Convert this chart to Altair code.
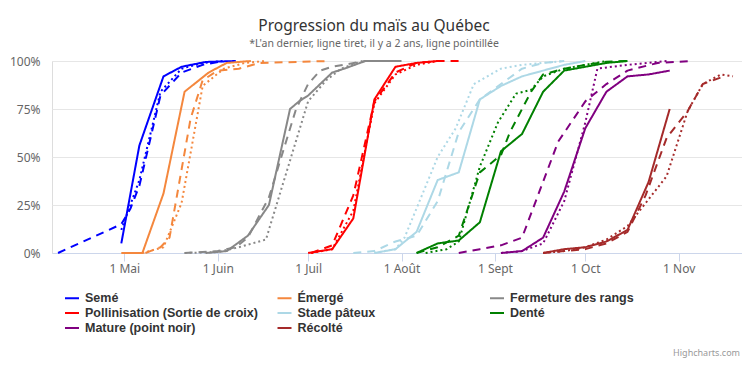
import altair as alt
import pandas as pd

YEAR = 2023
STAGES = ["Semé", "Émergé", "Fermeture des rangs",
          "Pollinisation (Sortie de croix)", "Stade pâteux", "Denté",
          "Mature (point noir)", "Récolté"]
COLORS = ["#0000ff", "#f4873d", "#888888", "#ff0000", "#add8e6",
          "#008000", "#800080", "#a52a2a"]
PERIODS = ["Cette année", "L'an dernier", "Il y a 2 ans"]
MONTHS = ["Janv", "Févr", "Mars", "Avr", "Mai", "Juin", "Juil", "Août",
          "Sept", "Oct", "Nov", "Déc"]
Y_TICKS = [0, 25, 50, 75, 100]

# (MM-DD, % cumulative) -- current year, last year (dashed), 2 years ago (dotted)
SEME_CUR = [("04-30", 5), ("05-06", 56), ("05-14", 92), ("05-20", 97), ("05-28", 99.5), ("06-07", 100)]
SEME_LY = [("04-09", 0), ("04-30", 15), ("05-03", 23), ("05-06", 35), ("05-13", 82), ("05-20", 94), ("05-27", 98), ("06-03", 100)]
SEME_L2 = [("04-30", 12), ("05-03", 25), ("05-06", 38), ("05-13", 84), ("05-20", 96), ("05-27", 99), ("06-03", 100)]

EMERGE_CUR = [("04-30", 0), ("05-07", 0), ("05-14", 31), ("05-21", 84), ("05-29", 94), ("06-04", 99), ("06-12", 100)]
EMERGE_LY = [("05-08", 0), ("05-13", 3), ("05-16", 8), ("05-23", 70), ("05-27", 90), ("06-01", 95), ("06-08", 96), ("06-15", 99), ("07-08", 100)]
EMERGE_L2 = [("05-07", 0), ("05-14", 3), ("05-20", 26), ("05-27", 87), ("06-03", 96), ("06-10", 99), ("06-17", 100)]

FERM_CUR = [("05-28", 0), ("06-04", 1), ("06-11", 9), ("06-18", 25), ("06-25", 75), ("06-28", 79), ("07-01", 82), ("07-09", 94), ("07-13", 96), ("07-20", 100), ("08-01", 100)]
FERM_LY = [("05-21", 0), ("06-01", 1), ("06-07", 3), ("06-11", 8), ("06-18", 29), ("06-27", 75), ("07-01", 88), ("07-05", 95), ("07-09", 97), ("07-20", 100)]
FERM_L2 = [("05-21", 0), ("06-01", 0.5), ("06-08", 3), ("06-17", 7), ("07-01", 79), ("07-07", 90), ("07-12", 96), ("07-19", 100)]

POLL_CUR = [("07-01", 0), ("07-09", 2), ("07-16", 18), ("07-23", 80), ("07-30", 97), ("08-06", 99), ("08-13", 100)]
POLL_LY = [("07-02", 0), ("07-09", 4), ("07-16", 30), ("07-23", 79), ("07-30", 94), ("08-06", 99), ("08-13", 100), ("08-20", 100)]
POLL_L2 = [("07-02", 0), ("07-09", 2), ("07-16", 22), ("07-23", 78), ("07-30", 93), ("08-06", 98), ("08-13", 100)]

PAT_CUR = [("07-23", 0), ("07-30", 2), ("08-06", 11), ("08-13", 38), ("08-20", 42), ("08-27", 80), ("09-03", 87), ("09-10", 92), ("09-17", 95), ("09-24", 98), ("10-01", 100)]
PAT_LY = [("07-16", 0), ("07-23", 1), ("07-30", 6), ("08-06", 9), ("08-13", 27), ("08-20", 63), ("08-27", 80), ("09-03", 88), ("09-10", 96), ("09-17", 99), ("09-24", 100)]
PAT_L2 = [("07-23", 0), ("07-30", 2), ("08-02", 8), ("08-13", 50), ("08-19", 65), ("08-25", 88), ("09-03", 96), ("09-10", 98), ("09-17", 99), ("09-24", 100)]

DENTE_CUR = [("08-06", 0), ("08-13", 5), ("08-20", 6.5), ("08-27", 16), ("09-03", 53), ("09-10", 62), ("09-17", 84), ("09-24", 95), ("10-01", 97), ("10-08", 99), ("10-15", 100)]
DENTE_LY = [("08-06", 0), ("08-13", 3), ("08-20", 9), ("08-27", 42), ("09-03", 51), ("09-06", 63), ("09-13", 84), ("09-17", 93), ("09-24", 96), ("10-01", 98), ("10-08", 99.6), ("10-15", 100)]
DENTE_L2 = [("08-09", 0), ("08-16", 2), ("08-20", 6), ("08-27", 45), ("09-02", 68), ("09-08", 83), ("09-13", 85), ("09-17", 92), ("09-24", 96), ("10-01", 98), ("10-08", 100)]

MAT_CUR = [("09-03", 0), ("09-10", 1), ("09-17", 8), ("09-24", 32), ("10-01", 65), ("10-08", 84), ("10-15", 92), ("10-22", 93), ("10-29", 95)]
MAT_LY = [("08-20", 0), ("08-27", 2), ("09-03", 4), ("09-10", 8), ("09-22", 58), ("10-01", 79), ("10-08", 88), ("10-15", 95), ("10-25", 99), ("11-05", 100)]
MAT_L2 = [("09-03", 0), ("09-10", 1), ("09-17", 5), ("09-24", 27), ("10-01", 68), ("10-05", 96), ("10-15", 98), ("10-28", 100)]

REC_CUR = [("09-17", 0), ("09-24", 2), ("10-01", 3), ("10-08", 6), ("10-15", 12), ("10-22", 37), ("10-29", 75)]
REC_LY = [("09-17", 0), ("09-24", 1), ("10-01", 2), ("10-08", 5), ("10-15", 11), ("10-21", 30), ("10-28", 60), ("11-04", 74), ("11-09", 88), ("11-16", 92)]
REC_L2 = [("09-17", 0), ("09-24", 1), ("10-01", 3), ("10-08", 7), ("10-15", 14), ("10-22", 28), ("10-28", 40), ("11-04", 74), ("11-09", 88), ("11-15", 93), ("11-19", 92)]

GROUPS = [
    (SEME_CUR, SEME_LY, SEME_L2),
    (EMERGE_CUR, EMERGE_LY, EMERGE_L2),
    (FERM_CUR, FERM_LY, FERM_L2),
    (POLL_CUR, POLL_LY, POLL_L2),
    (PAT_CUR, PAT_LY, PAT_L2),
    (DENTE_CUR, DENTE_LY, DENTE_L2),
    (MAT_CUR, MAT_LY, MAT_L2),
    (REC_CUR, REC_LY, REC_L2),
]

rows = []
for stage, group in zip(STAGES, GROUPS):
    for period, pts in zip(PERIODS, group):
        for d, v in pts:
            rows.append({"date": f"{YEAR}-{d}", "value": v, "stage": stage, "period": period})
df = pd.DataFrame(rows)

FONT = "Noto Sans"
LEGEND_FONT = "Liberation Sans"
label_expr = "'1 ' + " + str(MONTHS).replace('"', "'") + "[utcmonth(datum.value)]"
x_values = [alt.DateTime(year=YEAR, month=m, date=1, utc=True) for m in range(5, 12)]

lines = alt.Chart(df).mark_line(strokeCap="butt", strokeJoin="round").encode(
    x=alt.X("date:T",
            scale=alt.Scale(type="utc",
                            domain=[alt.DateTime(year=YEAR, month=4, date=7, utc=True),
                                    alt.DateTime(year=YEAR, month=11, date=22, utc=True)]),
            axis=alt.Axis(values=x_values, labelExpr=label_expr, title=None, grid=False,
                          domainColor="#ccd6eb", tickColor="#ccd6eb", tickSize=8,
                          labelColor="#666666", labelFont=FONT, labelFontSize=12,
                          labelPadding=2, labelFlush=False)),
    y=alt.Y("value:Q",
            scale=alt.Scale(domain=[0, 100], nice=False),
            axis=alt.Axis(values=Y_TICKS, labelExpr="datum.value + '%'", title=None,
                          domain=False, ticks=False, gridColor="#e6e6e6",
                          labelColor="#666666", labelFont=FONT, labelFontSize=12,
                          labelPadding=12)),
    color=alt.Color("stage:N",
                    scale=alt.Scale(domain=STAGES, range=COLORS),
                    legend=alt.Legend(title=None, orient="none", legendX=12, legendY=229,
                                      columns=3, direction="horizontal", gridAlign="all",
                                      symbolType="stroke", symbolStrokeWidth=2, symbolSize=196,
                                      labelFont=LEGEND_FONT, labelFontWeight="bold",
                                      labelFontSize=12.5, labelColor="#333333",
                                      labelOffset=5, columnPadding=15.5, rowPadding=-0.5,
                                      labelLimit=400, padding=0)),
    strokeDash=alt.StrokeDash("period:N",
                              scale=alt.Scale(domain=PERIODS, range=[[1, 0], [8, 6], [2, 3]]),
                              legend=None),
    strokeWidth=alt.StrokeWidth("period:N",
                                scale=alt.Scale(domain=PERIODS, range=[2, 2, 1.5]),
                                legend=None),
)

credit = alt.Chart(pd.DataFrame({"t": ["Highcharts.com"]})).mark_text(
    align="right", baseline="alphabetic", font=FONT, fontSize=9, color="#999999"
).encode(text="t:N", x=alt.value(688), y=alt.value(295))

chart = alt.layer(lines, credit).properties(
    width=690, height=192,
    autosize=alt.AutoSizeParams(type="none"),
    padding={"left": 44, "top": 53, "right": 0, "bottom": 105},
    title=alt.TitleParams(
        text="Progression du maïs au Québec",
        subtitle="*L'an dernier, ligne tiret, il y a 2 ans, ligne pointillée",
        font=FONT, fontSize=15.5, fontWeight="normal", color="#333333",
        subtitleFont=FONT, subtitleFontSize=10.5, subtitleColor="#666666",
        anchor="middle", offset=6, subtitlePadding=4, dx=-23),
).configure_view(stroke=None).configure(background="white")

chart.save("out.html", embed_options={"renderer": "svg", "actions": False})
